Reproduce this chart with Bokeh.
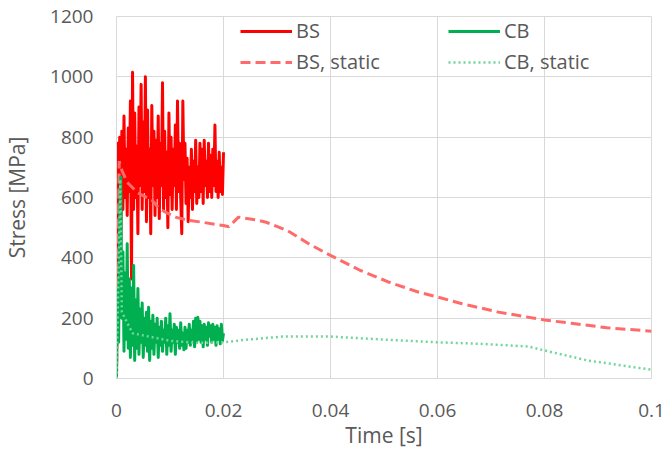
from bokeh.plotting import figure
from bokeh.models import Legend, LegendItem, FixedTicker, Range1d
from bokeh.embed import file_html
from bokeh.resources import INLINE

# ---- data ----
# sampling times of the dynamic signals, in milliseconds
time_ms = [0.0, 0.2, 0.4, 0.6, 0.8, 1.0, 1.2, 1.4, 1.6, 1.8,
           2.0, 2.2, 2.4, 2.6, 2.8, 3.0, 3.2, 3.4, 3.6, 3.8,
           4.0, 4.2, 4.4, 4.6, 4.8, 5.0, 5.2, 5.4, 5.6, 5.8,
           6.0, 6.2, 6.4, 6.6, 6.8, 7.0, 7.2, 7.4, 7.6, 7.8,
           8.0, 8.2, 8.4, 8.6, 8.8, 9.0, 9.2, 9.4, 9.6, 9.8,
           10.0, 10.2, 10.4, 10.6, 10.8, 11.0, 11.2, 11.4, 11.6, 11.8,
           12.0, 12.2, 12.4, 12.6, 12.8, 13.0, 13.2, 13.4, 13.6, 13.8,
           14.0, 14.2, 14.4, 14.6, 14.8, 15.0, 15.2, 15.4, 15.6, 15.8,
           16.0, 16.2, 16.4, 16.6, 16.8, 17.0, 17.2, 17.4, 17.6, 17.8,
           18.0, 18.2, 18.4, 18.6, 18.8, 19.0, 19.2, 19.4, 19.6, 19.8,
           20.0]

bs_stress = [0, 780, 520, 800, 450, 820, 560, 870, 600, 760,
             540, 830, 620, 920, 330, 1015, 560, 880, 600, 770,
             480, 900, 640, 975, 560, 850, 620, 1000, 520, 890,
             600, 760, 480, 905, 640, 820, 540, 790, 600, 870,
             530, 780, 640, 980, 560, 820, 600, 750, 500, 880,
             610, 800, 560, 760, 640, 840, 560, 920, 620, 780,
             600, 480, 920, 660, 780, 580, 730, 520, 700, 600,
             760, 560, 720, 620, 790, 580, 700, 600, 780, 620,
             760, 580, 790, 640, 720, 600, 780, 620, 740, 600,
             760, 640, 840, 620, 720, 600, 750, 620, 700, 610,
             750]

cb_stress = [0, 300, 120, 520, 667, 200, 420, 90, 350, 130,
             447, 100, 330, 70, 300, 110, 375, 60, 260, 100,
             298, 80, 230, 120, 250, 70, 200, 110, 220, 90,
             236, 60, 190, 100, 210, 80, 180, 120, 200, 70,
             170, 110, 190, 90, 160, 120, 200, 80, 175, 110,
             215, 90, 160, 120, 180, 80, 170, 120, 160, 100,
             185, 110, 150, 95, 170, 100, 160, 120, 180, 110,
             160, 130, 190, 105, 200, 120, 203, 130, 190, 120,
             175, 105, 180, 130, 170, 110, 185, 140, 175, 120,
             180, 130, 170, 110, 175, 130, 165, 115, 180, 125,
             150]

bs_static_time = [0, 0.0005, 0.001, 0.002, 0.004, 0.0067, 0.008, 0.011, 0.013,
                  0.016, 0.02, 0.021, 0.0228, 0.026, 0.028, 0.032, 0.036, 0.04,
                  0.0456, 0.051, 0.0565, 0.06, 0.0646, 0.0714, 0.08, 0.085,
                  0.0917, 0.1]
bs_static_stress = [0, 720, 690, 650, 615, 590, 562, 535, 526,
                    518, 507, 503, 535, 526, 518, 490, 446, 408,
                    358, 319, 286, 270, 248, 220, 194, 183,
                    168, 157]

cb_static_time = [0, 0.0007, 0.0010, 0.003, 0.01, 0.015, 0.02, 0.024, 0.031,
                  0.04, 0.051, 0.06, 0.068, 0.077, 0.08, 0.088, 0.1]
cb_static_stress = [0, 660, 220, 150, 125, 118, 120, 128, 139,
                    139, 128, 120, 115, 106, 93, 60, 29]

x_ticks = [0, 0.02, 0.04, 0.06, 0.08, 0.1]
x_tick_labels = ["0", "0.02", "0.04", "0.06", "0.08", "0.1"]
y_ticks = [0, 200, 400, 600, 800, 1000, 1200]

series_names = ["BS", "BS, static", "CB", "CB, static"]

time_s = [t / 1000.0 for t in time_ms]

FONT = "Open Sans"
TXT = "#595959"
GRID = "#D9D9D9"

p = figure(frame_width=535, frame_height=362,
           output_backend="svg", toolbar_location=None,
           x_range=Range1d(0, 0.1), y_range=Range1d(0, 1200),
           min_border_left=116, min_border_right=14,
           min_border_top=16, min_border_bottom=72)
p.background_fill_color = "white"
p.border_fill_color = "white"
p.outline_line_color = GRID

r_bs = p.line(time_s, bs_stress, line_color="#FF0000", line_width=3,
              line_join="round")
r_bss = p.line(bs_static_time, bs_static_stress, line_color="#FF6B6B",
               line_width=3, line_dash="10 5")
r_cb = p.line(time_s, cb_stress, line_color="#00B050", line_width=3,
              line_join="round")
r_cbs = p.line(cb_static_time, cb_static_stress, line_color="#72D59B",
               line_width=2.5, line_dash="2 3")

# axes
p.xaxis.ticker = FixedTicker(ticks=x_ticks)
p.xaxis.major_label_overrides = dict(zip(x_ticks, x_tick_labels))
p.yaxis.ticker = FixedTicker(ticks=y_ticks)
p.xaxis.axis_label = "Time [s]"
p.yaxis.axis_label = "Stress [MPa]"
for ax in (p.xaxis, p.yaxis):
    ax.axis_line_color = GRID
    ax.major_tick_line_color = None
    ax.minor_tick_line_color = None
    ax.major_label_text_font = FONT
    ax.major_label_text_font_size = "19px"
    ax.major_label_text_color = TXT
    ax.axis_label_text_font = FONT
    ax.axis_label_text_font_size = "21px"
    ax.axis_label_text_color = TXT
    ax.axis_label_text_font_style = "normal"
p.xaxis.major_label_standoff = 19
p.xaxis.axis_label_standoff = 1
p.yaxis.major_label_standoff = 17
p.yaxis.axis_label_standoff = 16

p.xgrid.grid_line_color = GRID
p.ygrid.grid_line_color = GRID
p.xgrid.ticker = FixedTicker(ticks=x_ticks)
p.ygrid.ticker = FixedTicker(ticks=y_ticks)

def make_legend(items, x):
    lg = Legend(items=items, location=(x, 303), orientation="vertical")
    lg.padding = 0
    lg.margin = 0
    lg.spacing = 4
    lg.glyph_width = 52
    lg.glyph_height = 26
    lg.label_height = 26
    lg.label_standoff = 4
    lg.label_text_font = FONT
    lg.label_text_font_size = "20px"
    lg.label_text_color = TXT
    lg.border_line_color = None
    lg.background_fill_alpha = 0
    return lg

leg1 = make_legend([LegendItem(label=series_names[0], renderers=[r_bs]),
                    LegendItem(label=series_names[1], renderers=[r_bss])], 124)
leg2 = make_legend([LegendItem(label=series_names[2], renderers=[r_cb]),
                    LegendItem(label=series_names[3], renderers=[r_cbs])], 332)
p.add_layout(leg1, "center")
p.add_layout(leg2, "center")

open("out.html", "w").write(file_html(p, INLINE))
